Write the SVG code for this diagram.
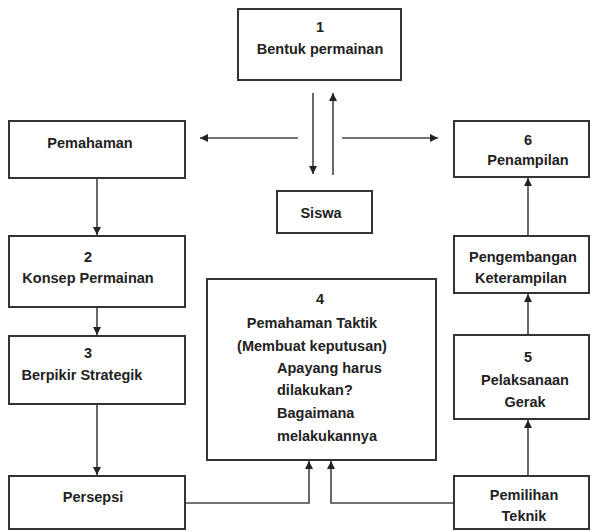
<svg xmlns="http://www.w3.org/2000/svg" width="599" height="532" viewBox="0 0 599 532">
  <defs>
    <marker id="ah" viewBox="0 0 10 10" refX="10" refY="5" markerWidth="9" markerHeight="8" markerUnits="userSpaceOnUse" orient="auto">
      <path d="M0,0 L10,5 L0,10 z" fill="#222"/>
    </marker>
    <style>
      .box { fill: #fff; stroke: #333; stroke-width: 2; }
      .t { font-family: "Liberation Sans", Arial, sans-serif; font-weight: bold; font-size: 14.5px; fill: #222; text-anchor: middle; }
      .l { text-anchor: start; }
      .c { fill: none; stroke: #444; stroke-width: 1.6; marker-end: url(#ah); }
    </style>
  </defs>
  <rect width="599" height="532" fill="#fff"/>

  <g id="connectors">
    <line class="c" x1="313" y1="93" x2="313" y2="174"/>
    <line class="c" x1="333" y1="175" x2="333" y2="93"/>
    <line class="c" x1="298" y1="138" x2="200" y2="138"/>
    <line class="c" x1="342" y1="138" x2="438" y2="138"/>
    <line class="c" x1="97" y1="178" x2="97" y2="235"/>
    <line class="c" x1="97" y1="307" x2="97" y2="335"/>
    <line class="c" x1="97" y1="404" x2="97" y2="475"/>
    <path class="c" d="M185,503 H309 V461"/>
    <path class="c" d="M454,503 H331 V461"/>
    <line class="c" x1="528" y1="476" x2="528" y2="420"/>
    <line class="c" x1="528" y1="335" x2="528" y2="294"/>
    <line class="c" x1="528" y1="236" x2="528" y2="178"/>
  </g>

  <g id="n1">
    <rect class="box" x="238" y="9" width="163" height="71"/>
    <text class="t" x="320" y="32">1</text>
    <text class="t" x="320" y="54">Bentuk permainan</text>
  </g>
  <g id="pemahaman">
    <rect class="box" x="9" y="121" width="176" height="57"/>
    <text class="t" x="90" y="148">Pemahaman</text>
  </g>
  <g id="siswa">
    <rect class="box" x="277" y="191" width="95" height="42"/>
    <text class="t" x="321" y="218">Siswa</text>
  </g>
  <g id="n6">
    <rect class="box" x="454" y="121" width="135" height="56"/>
    <text class="t" x="528" y="145">6</text>
    <text class="t" x="528" y="165">Penampilan</text>
  </g>
  <g id="n2">
    <rect class="box" x="9" y="236" width="176" height="71"/>
    <text class="t" x="88" y="262">2</text>
    <text class="t" x="88" y="283">Konsep Permainan</text>
  </g>
  <g id="pengembangan">
    <rect class="box" x="454" y="236" width="135" height="57"/>
    <text class="t" x="523" y="262">Pengembangan</text>
    <text class="t" x="521" y="283">Keterampilan</text>
  </g>
  <g id="n3">
    <rect class="box" x="9" y="336" width="176" height="68"/>
    <text class="t" x="88" y="358">3</text>
    <text class="t" x="82" y="380">Berpikir Strategik</text>
  </g>
  <g id="n4">
    <rect class="box" x="207" y="279" width="229" height="181"/>
    <text class="t" x="320" y="304">4</text>
    <text class="t" x="312" y="328">Pemahaman Taktik</text>
    <text class="t" x="312" y="351">(Membuat keputusan)</text>
    <text class="t l" x="277" y="373">Apayang harus</text>
    <text class="t l" x="277" y="395">dilakukan?</text>
    <text class="t l" x="277" y="418">Bagaimana</text>
    <text class="t l" x="277" y="441">melakukannya</text>
  </g>
  <g id="n5">
    <rect class="box" x="454" y="335" width="135" height="84"/>
    <text class="t" x="528" y="362">5</text>
    <text class="t" x="525" y="385">Pelaksanaan</text>
    <text class="t" x="525" y="407">Gerak</text>
  </g>
  <g id="persepsi">
    <rect class="box" x="9" y="476" width="176" height="53"/>
    <text class="t" x="93" y="502">Persepsi</text>
  </g>
  <g id="pemilihan">
    <rect class="box" x="454" y="476" width="135" height="53"/>
    <text class="t" x="524" y="500">Pemilihan</text>
    <text class="t" x="524" y="521">Teknik</text>
  </g>
</svg>
